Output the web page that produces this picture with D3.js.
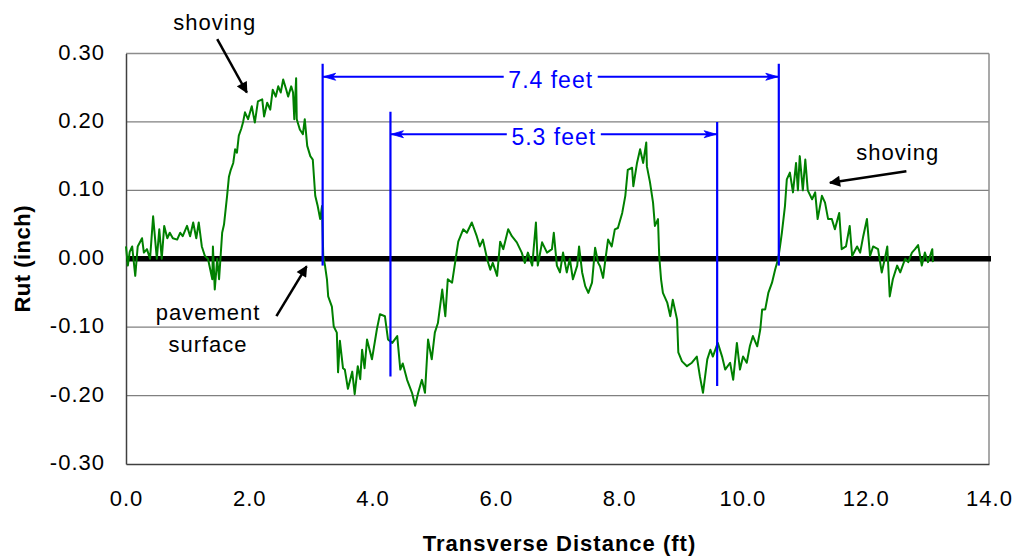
<!DOCTYPE html>
<html>
<head>
<meta charset="utf-8">
<script src="https://d3js.org/d3.v7.min.js"></script>
<style>
  html, body { margin: 0; padding: 0; background: #fff; }
  svg text { font-family: "Liberation Sans", Arial, sans-serif; }
</style>
</head>
<body>
<svg id="chart" width="1016" height="556"></svg>
<script>
// ---- data ----
const distanceFt = [
  0.00,0.03,0.06,0.10,0.15,0.19,0.26,0.29,0.34,0.39,0.44,0.50,0.54,0.58,0.62,0.67,0.71,0.76,0.83,0.88,
  0.92,0.99,1.04,1.09,1.14,1.18,1.23,1.28,1.33,1.40,1.41,1.44,1.48,1.51,1.56,1.59,1.64,1.67,1.70,1.74,
  1.77,1.80,1.83,1.87,1.90,1.93,1.98,2.04,2.09,2.14,2.21,2.24,2.29,2.34,2.38,2.43,2.47,2.51,2.55,2.60,
  2.63,2.68,2.71,2.73,2.76,2.77,2.82,2.87,2.90,2.94,2.99,3.03,3.07,3.11,3.15,3.18,3.20,3.23,3.26,3.28,
  3.34,3.37,3.42,3.44,3.47,3.52,3.55,3.60,3.67,3.71,3.76,3.80,3.83,3.87,3.91,3.99,4.07,4.12,4.20,4.25,
  4.32,4.40,4.45,4.49,4.56,4.64,4.69,4.74,4.80,4.85,4.90,4.96,5.01,5.06,5.13,5.18,5.22,5.29,5.34,5.39,
  5.47,5.53,5.61,5.69,5.74,5.79,5.86,5.91,5.95,6.02,6.07,6.12,6.20,6.26,6.34,6.42,6.47,6.52,6.59,6.65,
  6.68,6.75,6.83,6.91,6.94,6.99,7.04,7.09,7.15,7.20,7.25,7.32,7.35,7.40,7.45,7.50,7.56,7.61,7.66,7.69,
  7.74,7.77,7.82,7.88,7.93,7.98,8.05,8.10,8.14,8.21,8.23,8.29,8.34,8.39,8.44,8.45,8.50,8.55,8.58,8.63,
  8.65,8.68,8.71,8.78,8.83,8.87,8.94,8.96,9.02,9.10,9.18,9.26,9.31,9.36,9.43,9.48,9.52,9.60,9.67,9.72,
  9.80,9.85,9.91,9.96,10.01,10.07,10.12,10.17,10.24,10.29,10.32,10.37,10.42,10.48,10.53,10.58,10.61,10.64,10.69,10.72,
  10.77,10.82,10.87,10.90,10.93,10.98,11.02,11.06,11.13,11.18,11.22,11.29,11.34,11.39,11.45,11.50,11.57,11.61,11.68,11.74,
  11.78,11.86,11.91,11.96,12.02,12.07,12.12,12.20,12.26,12.31,12.35,12.39,12.44,12.51,12.56,12.64,12.69,12.75,12.80,12.85,
  12.91,12.96,13.01,13.08,13.09
];
const rutInch = [
  0.018,-0.010,0.010,0.018,-0.025,0.018,0.030,0.009,0.014,0.000,0.062,0.000,0.043,0.000,0.048,0.030,0.038,0.030,0.028,0.038,
  0.033,0.048,0.033,0.053,0.030,0.053,0.018,0.004,0.000,-0.030,0.018,-0.045,0.000,-0.030,0.038,0.050,0.092,0.120,0.130,0.140,
  0.160,0.155,0.180,0.190,0.200,0.214,0.204,0.223,0.199,0.230,0.233,0.208,0.228,0.218,0.247,0.237,0.252,0.243,0.262,0.247,
  0.237,0.252,0.243,0.204,0.264,0.204,0.189,0.182,0.204,0.165,0.150,0.145,0.092,0.077,0.058,0.077,0.004,-0.011,-0.030,-0.055,
  -0.070,-0.099,-0.108,-0.166,-0.120,-0.160,-0.162,-0.190,-0.165,-0.198,-0.157,-0.176,-0.133,-0.160,-0.118,-0.147,-0.103,-0.081,-0.084,-0.118,
  -0.123,-0.113,-0.162,-0.153,-0.177,-0.196,-0.215,-0.196,-0.177,-0.196,-0.118,-0.147,-0.108,-0.094,-0.045,-0.084,-0.030,-0.035,-0.005,0.025,
  0.043,0.038,0.053,0.033,0.018,0.028,-0.001,-0.016,-0.006,-0.025,0.025,0.014,0.043,0.033,0.024,0.009,-0.006,0.009,-0.010,0.053,
  -0.010,0.024,0.009,0.014,0.038,-0.010,-0.020,0.009,-0.020,0.000,-0.030,-0.010,0.018,-0.020,-0.040,-0.050,-0.035,0.016,-0.006,-0.011,
  -0.028,-0.006,0.028,0.018,0.043,0.045,0.067,0.092,0.130,0.133,0.106,0.140,0.160,0.140,0.170,0.135,0.112,0.082,0.048,0.058,
  0.004,-0.030,-0.050,-0.064,-0.084,-0.060,-0.089,-0.137,-0.150,-0.157,-0.152,-0.143,-0.172,-0.196,-0.147,-0.133,-0.143,-0.123,-0.143,-0.162,
  -0.152,-0.177,-0.123,-0.162,-0.143,-0.152,-0.128,-0.113,-0.128,-0.103,-0.074,-0.074,-0.050,-0.035,-0.016,0.000,0.018,0.038,0.077,0.116,
  0.126,0.097,0.140,0.100,0.150,0.100,0.145,0.100,0.087,0.097,0.058,0.092,0.082,0.058,0.058,0.043,0.067,0.014,0.018,0.048,
  0.004,0.018,0.009,0.033,0.058,0.004,0.018,0.014,-0.020,0.000,0.018,-0.055,-0.030,-0.010,-0.020,0.000,-0.005,0.009,0.014,0.020,
  -0.010,0.009,-0.005,0.014,-0.005
];
const xTickValues = [0, 2, 4, 6, 8, 10, 12, 14];
const yTickValues = [0.30, 0.20, 0.10, 0.00, -0.10, -0.20, -0.30];

// dimension markers
const dimLeft   = [3.19, 4.29];
const dimRight  = [10.59, 9.59];
const dimLevel  = [0.266, 0.182];
const dimLTop   = [0.285, 0.215];
const dimLBot   = [-0.010, -0.172];
const dimRTop   = [0.285, 0.200];
const dimRBot   = [-0.010, -0.186];
const dimLabels = ["7.4 feet", "5.3 feet"];

// annotations (data units)
const noteTexts = [["shoving"], ["shoving"], ["pavement", "surface"]];
const noteTextX = [1.44, 12.52, 1.33];
const noteTextY = [0.335, 0.145, -0.089];
const noteFromX = [1.48, 12.66, 2.44];
const noteFromY = [0.321, 0.128, -0.084];
const noteToX   = [1.96, 11.42, 2.93];
const noteToY   = [0.243, 0.111, -0.011];

// ---- chart ----
const svg = d3.select("#chart");
const pLeft = 126, pRight = 989, pTop = 53.5, pBottom = 464;
const x = d3.scaleLinear().domain([0, 14]).range([pLeft, pRight]);
const y = d3.scaleLinear().domain([-0.3, 0.3]).range([pBottom, pTop]);

const fontSize = 22;

// gridlines
svg.append("g").selectAll("line")
  .data(yTickValues.filter(v => Math.abs(v) < 0.29 && v !== 0))
  .join("line")
  .attr("x1", pLeft).attr("x2", pRight)
  .attr("y1", d => y(d)).attr("y2", d => y(d))
  .attr("stroke", "#808080").attr("stroke-width", 1.2);

// frame
svg.append("line").attr("x1", pLeft).attr("x2", pRight).attr("y1", pTop).attr("y2", pTop)
  .attr("stroke", "#8c8c8c").attr("stroke-width", 1.5);
svg.append("line").attr("x1", pRight).attr("x2", pRight).attr("y1", pTop).attr("y2", pBottom)
  .attr("stroke", "#8c8c8c").attr("stroke-width", 1.5);

// axes
const yAxis = d3.axisLeft(y).tickValues(yTickValues).tickSize(0).tickPadding(21)
  .tickFormat(d => d.toFixed(2));
const gy = svg.append("g").attr("transform", `translate(${pLeft},0)`).call(yAxis);
gy.select(".domain").attr("stroke", "#404040").attr("stroke-width", 1.5);
gy.selectAll("text").attr("font-size", fontSize).attr("fill", "#000")
  .attr("font-family", "Liberation Sans, Arial, sans-serif")
  .attr("letter-spacing", 1).attr("dy", "0.25em");

const xAxis = d3.axisBottom(x).tickValues(xTickValues).tickSize(0).tickPadding(26)
  .tickFormat(d => d.toFixed(1));
const gx = svg.append("g").attr("transform", `translate(0,${pBottom})`).call(xAxis);
gx.select(".domain").attr("stroke", "#404040").attr("stroke-width", 1.5);
gx.selectAll("text").attr("font-size", fontSize).attr("fill", "#000")
  .attr("font-family", "Liberation Sans, Arial, sans-serif")
  .attr("letter-spacing", 1).attr("dy", "0.71em");

// axis titles
svg.append("text")
  .attr("x", (pLeft + pRight) / 2 + 2).attr("y", 551)
  .attr("text-anchor", "middle").attr("font-size", fontSize).attr("font-weight", "bold")
  .attr("letter-spacing", 1)
  .text("Transverse Distance (ft)");
svg.append("text")
  .attr("transform", `translate(30,${y(0)}) rotate(-90)`)
  .attr("text-anchor", "middle").attr("font-size", fontSize).attr("font-weight", "bold")
  .attr("letter-spacing", 0.5)
  .text("Rut (inch)");

// zero (pavement surface) line
svg.append("line")
  .attr("x1", pLeft).attr("x2", pRight + 2)
  .attr("y1", y(0)).attr("y2", y(0))
  .attr("stroke", "#000").attr("stroke-width", 5.5);

// profile line
const pts = distanceFt.map((d, i) => [d, rutInch[i]]);
svg.append("path")
  .datum(pts)
  .attr("fill", "none")
  .attr("stroke", "#008000")
  .attr("stroke-width", 2)
  .attr("stroke-linejoin", "round")
  .attr("d", d3.line().x(d => x(d[0])).y(d => y(d[1])));

// dimension markers
const blue = "#0000ff";
dimLabels.forEach((lab, i) => {
  const g = svg.append("g");
  const xl = x(dimLeft[i]), xr = x(dimRight[i]), yl = y(dimLevel[i]);
  g.append("line").attr("x1", xl).attr("x2", xl).attr("y1", y(dimLTop[i])).attr("y2", y(dimLBot[i]))
    .attr("stroke", blue).attr("stroke-width", 2.2);
  g.append("line").attr("x1", xr).attr("x2", xr).attr("y1", y(dimRTop[i])).attr("y2", y(dimRBot[i]))
    .attr("stroke", blue).attr("stroke-width", 2.2);
  const cx = (xl + xr) / 2;
  const half = 47;
  g.append("line").attr("x1", xl).attr("x2", cx - half).attr("y1", yl).attr("y2", yl)
    .attr("stroke", blue).attr("stroke-width", 2.2);
  g.append("line").attr("x1", cx + half).attr("x2", xr).attr("y1", yl).attr("y2", yl)
    .attr("stroke", blue).attr("stroke-width", 2.2);
  g.append("path").attr("d", `M${xl + 1},${yl} L${xl + 13},${yl - 3.5} L${xl + 10},${yl} L${xl + 13},${yl + 3.5} Z`)
    .attr("fill", blue).attr("stroke", blue).attr("stroke-width", 0.8);
  g.append("path").attr("d", `M${xr - 1},${yl} L${xr - 13},${yl - 3.5} L${xr - 10},${yl} L${xr - 13},${yl + 3.5} Z`)
    .attr("fill", blue).attr("stroke", blue).attr("stroke-width", 0.8);
  g.append("text").attr("x", cx).attr("y", yl + 11)
    .attr("text-anchor", "middle").attr("font-size", 23).attr("fill", blue)
    .attr("letter-spacing", 1)
    .text(lab);
});

// annotation arrows
svg.append("defs").append("marker")
  .attr("id", "ah").attr("viewBox", "0 0 10 10").attr("refX", 9).attr("refY", 5)
  .attr("markerWidth", 5).attr("markerHeight", 4.5).attr("markerUnits", "strokeWidth")
  .attr("orient", "auto")
  .append("path").attr("d", "M0,0 L10,5 L0,10 Z").attr("fill", "#000");

noteTexts.forEach((lines, i) => {
  lines.forEach((t, j) => {
    svg.append("text")
      .attr("x", x(noteTextX[i])).attr("y", y(noteTextY[i]) + j * 32)
      .attr("text-anchor", "middle").attr("font-size", fontSize).attr("fill", "#000")
      .attr("letter-spacing", 1)
      .text(t);
  });
  svg.append("line")
    .attr("x1", x(noteFromX[i])).attr("y1", y(noteFromY[i]))
    .attr("x2", x(noteToX[i])).attr("y2", y(noteToY[i]))
    .attr("stroke", "#000").attr("stroke-width", 2.5)
    .attr("marker-end", "url(#ah)");
});
</script>
</body>
</html>
